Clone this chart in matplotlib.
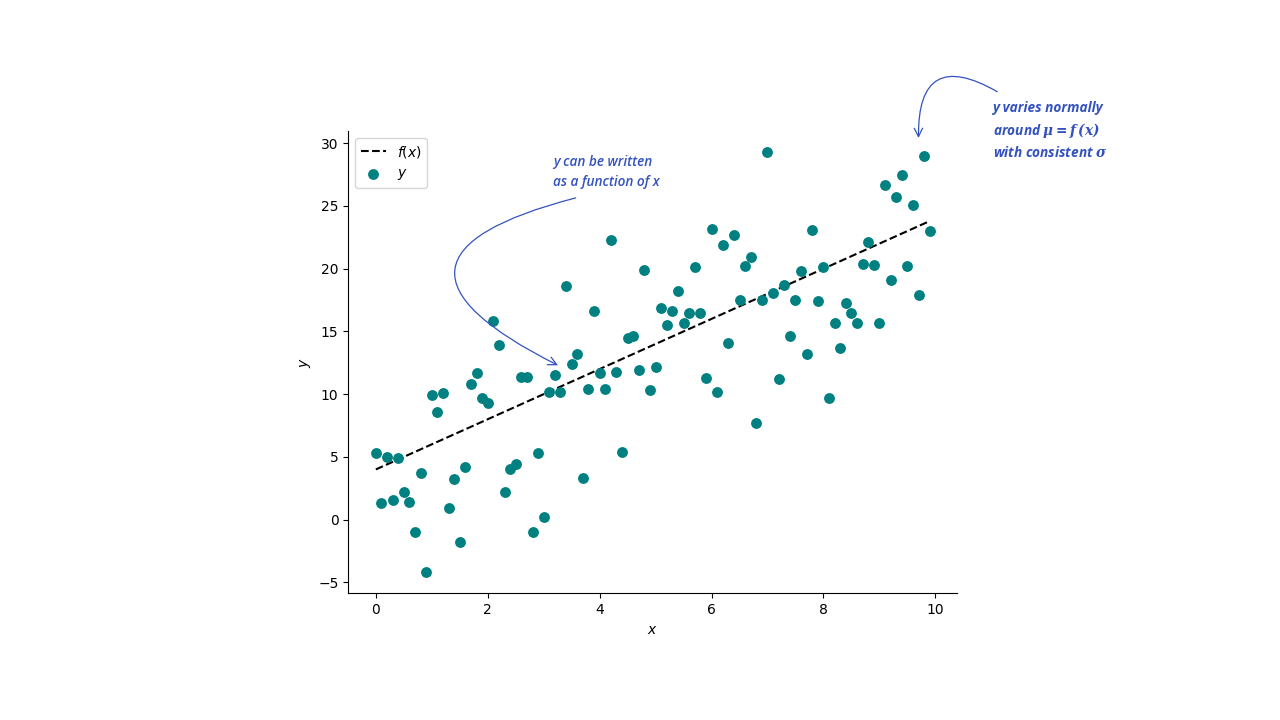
import numpy as np
import matplotlib.pyplot as plt

plt.rcParams["mathtext.fontset"] = "custom"
plt.rcParams["mathtext.bf"] = "DejaVu Serif:italic:bold"

# sample points
x = np.round(np.arange(0, 10, 0.1), 1)
y = [5.3, 1.3, 5.0, 1.6, 4.9, 2.2, 1.4, -1.0, 3.7, -4.2,
     9.9, 8.6, 10.1, 0.9, 3.2, -1.8, 4.2, 10.8, 11.7, 9.7,
     9.3, 15.8, 13.9, 2.2, 4.0, 4.4, 11.4, 11.4, -1.0, 5.3,
     0.2, 10.2, 11.5, 10.2, 18.6, 12.4, 13.2, 3.3, 10.4, 16.6,
     11.7, 10.4, 22.3, 11.8, 5.4, 14.5, 14.6, 11.9, 19.9, 10.3,
     12.2, 16.9, 15.5, 16.6, 18.2, 15.7, 16.5, 20.1, 16.5, 11.3,
     23.2, 10.2, 21.9, 14.1, 22.7, 17.5, 20.2, 20.9, 7.7, 17.5,
     29.3, 18.1, 11.2, 18.7, 14.6, 17.5, 19.8, 13.2, 23.1, 17.4,
     20.1, 9.7, 15.7, 13.7, 17.3, 16.5, 15.7, 20.4, 22.1, 20.3,
     15.7, 26.7, 19.1, 25.7, 27.5, 20.2, 25.1, 17.9, 29.0, 23.0]

# f(x) line endpoints
line_x = [0, 9.9]
line_y = [4.0, 23.8]

ann_color = "#3352C0"

fig = plt.figure(figsize=(12.8, 7.2), dpi=100)
ax = fig.add_axes([0.272, 0.176, 0.476, 0.642])

ax.plot(line_x, line_y, "--", color="black", label="$f(x)$")
ax.scatter(x, y, color="teal", s=46, label="$y$", zorder=3)

ax.spines["top"].set_visible(False)
ax.spines["right"].set_visible(False)
ax.set_xlabel("$x$")
ax.set_ylabel("$y$")
ax.legend(loc="upper left", handlelength=1.8)

# annotation 1
ax.text(3.17, 29.05, "y can be written\nas a function of x", color=ann_color,
        fontsize=9.8, style="italic", weight="semibold", family="Open Sans",
        va="top", linespacing=1.55)
ax.annotate("", xy=(3.30, 12.2), xytext=(3.62, 25.7),
            arrowprops=dict(arrowstyle="->", color=ann_color, lw=0.9,
                            connectionstyle="arc3,rad=1.35", mutation_scale=15))

# annotation 2
ax.text(11.03, 33.4, "y varies normally\naround $\\mathbf{\\mu = f\\,(x)}$\nwith consistent $\\mathbf{\\sigma}$",
        color=ann_color, fontsize=9.8, style="italic", weight="bold",
        family="Open Sans", va="top", linespacing=1.45, clip_on=False)
ax.annotate("", xy=(9.70, 30.2), xytext=(11.15, 34.0),
            arrowprops=dict(arrowstyle="->", color=ann_color, lw=0.9,
                            connectionstyle="arc3,rad=0.9", mutation_scale=15),
            annotation_clip=False)

plt.savefig("out.png")
